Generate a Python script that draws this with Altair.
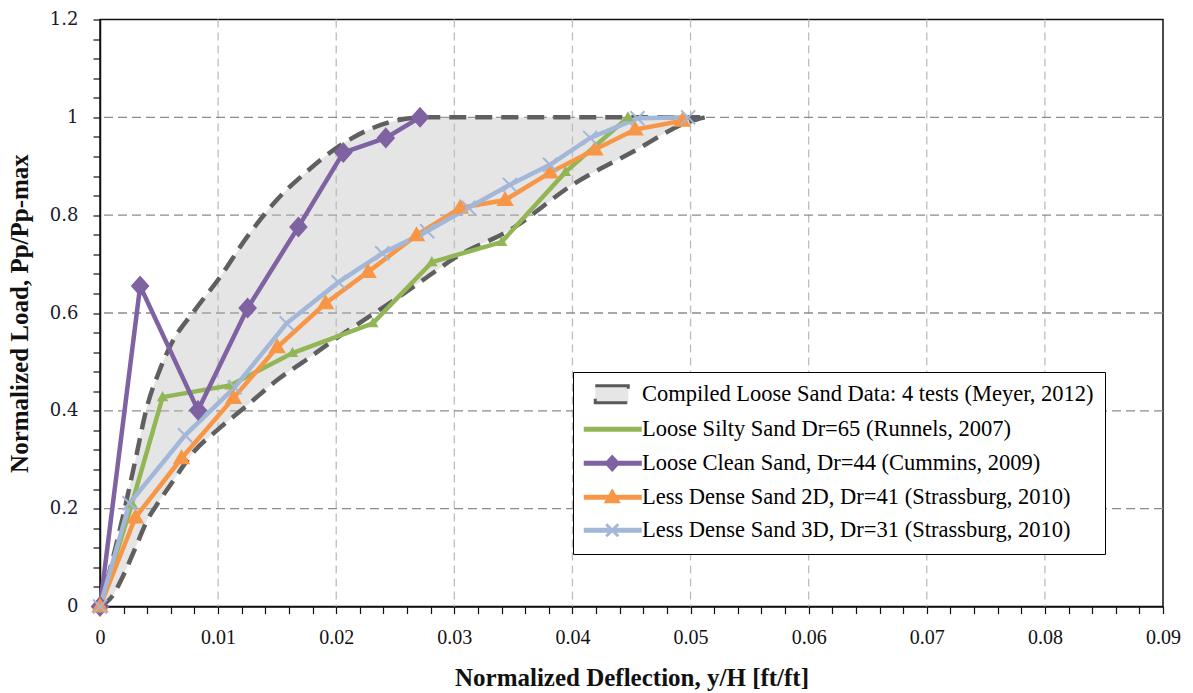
import altair as alt
import pandas as pd

# ---------------- data ----------------
SERIES = [
    "Compiled Loose Sand Data: 4 tests (Meyer, 2012)",
    "Loose Silty Sand Dr=65 (Runnels, 2007)",
    "Loose Clean Sand, Dr=44 (Cummins, 2009)",
    "Less Dense Sand 2D, Dr=41 (Strassburg, 2010)",
    "Less Dense Sand 3D, Dr=31 (Strassburg, 2010)",
]
FILLS = ["#e6e6e6", "#92b556", "#7f62a2", "#f79646", "#a3b7d9"]
STROKES = ["#595959", "#92b556", "#7f62a2", "#f79646", "#a3b7d9"]

green_x = [0, 0.0027, 0.0053, 0.0110, 0.0163, 0.0231, 0.0281, 0.0340, 0.0394, 0.0447]
green_y = [0, 0.210, 0.428, 0.452, 0.518, 0.579, 0.704, 0.745, 0.888, 1.000]

purple_x = [0, 0.0034, 0.0083, 0.0125, 0.0168, 0.0206, 0.0242, 0.0271]
purple_y = [0, 0.655, 0.401, 0.610, 0.776, 0.928, 0.958, 1.000]

orange_x = [0, 0.0030, 0.0069, 0.0113, 0.0150, 0.0191, 0.0227, 0.0268, 0.0305,
            0.0343, 0.0381, 0.0419, 0.0453, 0.0493]
orange_y = [0, 0.182, 0.303, 0.426, 0.530, 0.620, 0.684, 0.759, 0.815,
            0.831, 0.887, 0.934, 0.975, 0.993]

blue_x = [0, 0.0025, 0.0072, 0.0114, 0.0158, 0.0202, 0.0239, 0.0277, 0.0312,
          0.0347, 0.0381, 0.0415, 0.0455, 0.0498]
blue_y = [0, 0.211, 0.350, 0.448, 0.579, 0.663, 0.722, 0.767, 0.815,
          0.862, 0.903, 0.958, 0.998, 1.000]

# envelope of the compiled loose-sand tests
band_x = [0, 0.001, 0.002, 0.003, 0.004, 0.005, 0.006, 0.008, 0.010, 0.0125,
          0.015, 0.0175, 0.020, 0.0225, 0.025, 0.0275, 0.030, 0.035, 0.040,
          0.045, 0.050, 0.0512]
band_upper = [0, 0.09, 0.19, 0.30, 0.41, 0.48, 0.535, 0.605, 0.668, 0.757,
              0.832, 0.889, 0.937, 0.972, 0.993, 1.0, 1.0, 1.0, 1.0,
              1.0, 1.0, 1.0]
band_lower = [0, 0.02, 0.065, 0.12, 0.176, 0.215, 0.25, 0.318, 0.362, 0.412,
              0.463, 0.505, 0.548, 0.588, 0.628, 0.670, 0.712, 0.774, 0.862,
              0.928, 0.992, 1.0]

x_grid = [0.01, 0.02, 0.03, 0.04, 0.05, 0.06, 0.07, 0.08]
y_grid = [0.2, 0.4, 0.6, 0.8, 1.0]
x_ticks = [round(i * 0.002, 3) for i in range(46)]
y_ticks = [round(i * 0.04, 2) for i in range(31)]

# ---------------- tables ----------------
rows = []
for name, xs, ys in [(SERIES[1], green_x, green_y), (SERIES[2], purple_x, purple_y),
                     (SERIES[3], orange_x, orange_y), (SERIES[4], blue_x, blue_y)]:
    for i, (xv, yv) in enumerate(zip(xs, ys)):
        rows.append({"series": name, "x": xv, "y": yv, "i": i})
df = pd.DataFrame(rows)

band = pd.DataFrame({"x": band_x, "upper": band_upper, "lower": band_lower})
band_long = band.melt(id_vars="x", value_vars=["upper", "lower"], var_name="edge", value_name="y")

# ---------------- scales & axes ----------------
SERIF = "Liberation Serif"
xscale = alt.Scale(domain=[0, 0.09], nice=False, zero=False)
yscale = alt.Scale(domain=[0, 1.2], nice=False, zero=False)

x_axis = alt.Axis(
    values=x_ticks,
    labelExpr="abs(datum.value*100 - round(datum.value*100)) < 0.001 ? format(datum.value, '.2~f') : ''",
    title="Normalized Deflection, y/H [ft/ft]",
    grid=False, tickSize=7, labelPadding=14, labelOverlap=False, labelFlush=False,
    labelFont=SERIF, labelFontSize=20, labelColor="#111",
    titleFont=SERIF, titleFontSize=25, titleFontWeight="bold", titleColor="#111",
    titlePadding=18,
)
y_axis = alt.Axis(
    values=y_ticks,
    labelExpr="abs(datum.value*5 - round(datum.value*5)) < 0.001 ? format(datum.value, '.1~f') : ''",
    title="Normalized Load, Pp/Pp-max",
    grid=False, tickSize=7, labelPadding=15, labelOverlap=False, labelFlush=False,
    labelFont="DejaVu Serif", labelFontSize=18, labelColor="#1a1a2a",
    titleFont=SERIF, titleFontSize=25, titleFontWeight="bold", titleColor="#111",
    titlePadding=17,
)


def X(f):
    return alt.X(f, type="quantitative", scale=xscale, axis=x_axis)


def Y(f):
    return alt.Y(f, type="quantitative", scale=yscale, axis=y_axis)


# ---------------- legend with line+marker symbols ----------------
LINE = "M-10,-1H45V1H-10Z"
LEG_PATHS = [
    "M0,-8.5H33V8.5H0Z",
    LINE,
    LINE + " M17,-6.5L23,0L17,6.5L11,0Z",
    LINE + " M17,-6L23,4.5L11,4.5Z",
    LINE + " M11,-6L23,6M11,6L23,-6",
]


def choose(vals):
    expr = "'%s'" % vals[-1]
    for s, v in reversed(list(zip(SERIES[:-1], vals[:-1]))):
        expr = "datum.value === '%s' ? '%s' : (%s)" % (s, v, expr)
    return expr


legend = alt.Legend(
    title=None, orient="none", legendX=473, legendY=352.5,
    symbolType={"expr": choose(LEG_PATHS)},
    symbolDash={"expr": "datum.value === '%s' ? [36, 15] : []" % SERIES[0]},
    symbolStrokeWidth=3, symbolSize=4, symbolOffset=0,
    labelFont=SERIF, labelFontSize=22.5, labelColor="#000", labelLimit=800,
    labelOffset=35.5, rowPadding=9, padding=11,
    strokeColor="#000", fillColor="#fff",
)

# marker shapes in pixel units (mark size 4 -> scale 1)
MARK_PATHS = [
    "M0,-4L4,3L-4,3Z",
    "M0,-9L8,0L0,9L-8,0Z",
    "M0,-7L7,5L-7,5Z",
    "M-7,-7L7,7M-7,7L7,-7",
]

# ---------------- layers ----------------
vgrid = alt.Chart(pd.DataFrame({"x": x_grid})).mark_rule(
    color="#bdbdbd", strokeWidth=1.3, strokeDash=[8, 5]).encode(x=X("x:Q"))
hgrid = alt.Chart(pd.DataFrame({"y": y_grid})).mark_rule(
    color="#8c8c8c", strokeWidth=1.3, strokeDash=[9, 5]).encode(y=Y("y:Q"))

band_fill = alt.Chart(band).mark_area(color="#bdbdbd", opacity=0.4, interpolate="monotone").encode(
    x=X("x:Q"), y=Y("upper:Q"), y2=alt.Y2("lower:Q"))
band_lines = alt.Chart(band_long).mark_line(
    color="#5f5f5f", strokeWidth=4.5, strokeDash=[17, 9], interpolate="monotone").encode(
    x=X("x:Q"), y=Y("y:Q"), detail="edge:N")

line_scale = alt.Scale(domain=SERIES[1:], range=STROKES[1:])
lines = []
for name in SERIES[1:]:
    lines.append(
        alt.Chart(df).transform_filter(alt.datum.series == name).mark_line(strokeWidth=4.5).encode(
            x=X("x:Q"), y=Y("y:Q"), order="i:Q",
            color=alt.Color("series:N", scale=line_scale, legend=None))
    )

markers = alt.Chart(df).mark_point(filled=True, opacity=1, size=4, strokeWidth=2).encode(
    x=X("x:Q"), y=Y("y:Q"),
    fill=alt.Fill("series:N", scale=alt.Scale(domain=SERIES, range=FILLS), legend=legend),
    stroke=alt.Stroke("series:N", scale=alt.Scale(domain=SERIES, range=STROKES), legend=None),
    shape=alt.Shape("series:N", scale=alt.Scale(domain=SERIES[1:], range=MARK_PATHS), legend=None),
)

chart = alt.layer(vgrid, hgrid, band_fill, band_lines, *lines, markers).properties(
    width=1063, height=587,
    autosize=alt.AutoSizeParams(type="none"),
    padding={"left": 100, "top": 19.5, "right": 30, "bottom": 87},
    background="white",
).configure_view(stroke="#111", strokeWidth=1.5).configure_axis(
    domainColor="#111", domainWidth=1.5, tickColor="#111", tickWidth=1.2,
)

chart.save("out.html", embed_options={"renderer": "svg", "actions": False})
